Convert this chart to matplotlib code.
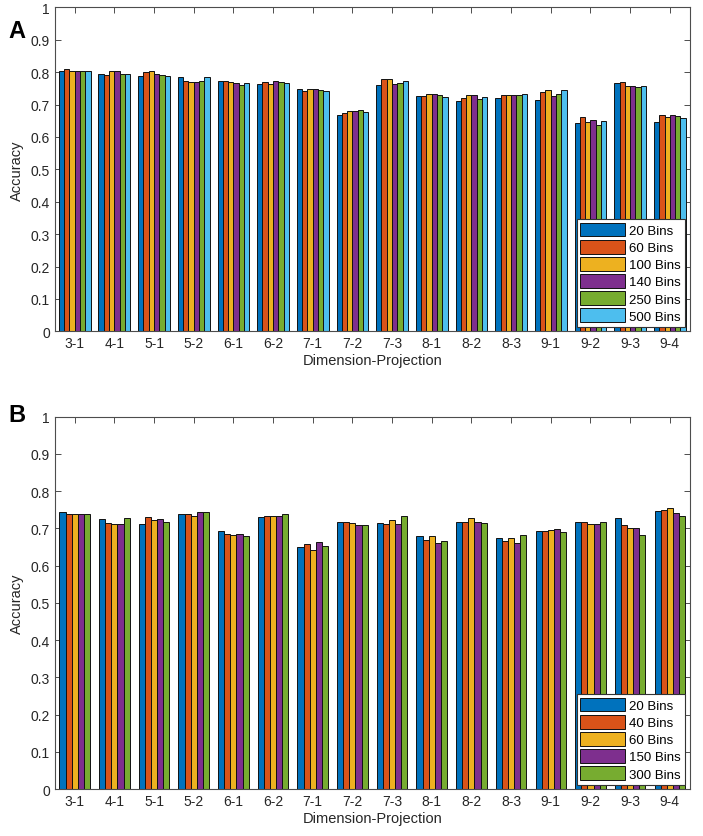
import matplotlib
matplotlib.use("Agg")
import matplotlib.pyplot as plt
import numpy as np

plt.rcParams['font.family'] = ['Liberation Sans', 'DejaVu Sans']

categories = ["3-1", "4-1", "5-1", "5-2", "6-1", "6-2", "7-1", "7-2",
              "7-3", "8-1", "8-2", "8-3", "9-1", "9-2", "9-3", "9-4"]

# Panel A
labels_a = ["20 Bins", "60 Bins", "100 Bins", "140 Bins", "250 Bins", "500 Bins"]
a_20  = [0.805, 0.793, 0.787, 0.784, 0.774, 0.764, 0.747, 0.667, 0.761, 0.726, 0.710, 0.721, 0.713, 0.644, 0.768, 0.647]
a_60  = [0.810, 0.790, 0.800, 0.774, 0.774, 0.771, 0.742, 0.674, 0.778, 0.726, 0.721, 0.728, 0.740, 0.662, 0.770, 0.667]
a_100 = [0.803, 0.803, 0.803, 0.771, 0.770, 0.764, 0.749, 0.680, 0.780, 0.732, 0.730, 0.730, 0.744, 0.647, 0.756, 0.662]
a_140 = [0.805, 0.803, 0.793, 0.770, 0.765, 0.774, 0.749, 0.680, 0.764, 0.732, 0.728, 0.730, 0.726, 0.652, 0.758, 0.667]
a_250 = [0.805, 0.795, 0.791, 0.774, 0.760, 0.770, 0.744, 0.683, 0.768, 0.729, 0.716, 0.730, 0.732, 0.636, 0.754, 0.665]
a_500 = [0.805, 0.795, 0.787, 0.786, 0.767, 0.768, 0.742, 0.676, 0.772, 0.724, 0.723, 0.732, 0.744, 0.650, 0.758, 0.658]

# Panel B
labels_b = ["20 Bins", "40 Bins", "60 Bins", "150 Bins", "300 Bins"]
b_20  = [0.743, 0.724, 0.712, 0.738, 0.693, 0.730, 0.651, 0.717, 0.714, 0.679, 0.717, 0.675, 0.693, 0.717, 0.727, 0.746]
b_40  = [0.740, 0.714, 0.730, 0.738, 0.684, 0.732, 0.658, 0.716, 0.712, 0.669, 0.717, 0.667, 0.693, 0.716, 0.710, 0.750]
b_60  = [0.738, 0.712, 0.722, 0.733, 0.681, 0.733, 0.642, 0.714, 0.722, 0.679, 0.727, 0.675, 0.695, 0.713, 0.700, 0.756]
b_150 = [0.740, 0.712, 0.724, 0.743, 0.684, 0.733, 0.664, 0.710, 0.712, 0.660, 0.717, 0.661, 0.698, 0.713, 0.700, 0.741]
b_300 = [0.738, 0.727, 0.716, 0.743, 0.679, 0.738, 0.653, 0.710, 0.734, 0.666, 0.714, 0.681, 0.690, 0.716, 0.681, 0.734]

colors = ["#0072BD", "#D95319", "#EDB120", "#7E2F8E", "#77AC30", "#4DBEEE"]
axis_color = "#4d4d4d"

fig = plt.figure(figsize=(7.03, 8.37), dpi=100)
ax_a = fig.add_axes([0.078, 0.603, 0.903, 0.387])
ax_b = fig.add_axes([0.078, 0.056, 0.903, 0.445])


def draw(ax, series, labels):
    n = len(series)
    x = np.arange(1, len(categories) + 1)
    group_w = min(0.8, n / (n + 1.5))
    bw = group_w / n
    for i, (vals, lab) in enumerate(zip(series, labels)):
        off = -group_w / 2 + bw * (i + 0.5)
        ax.bar(x + off, vals, width=bw, color=colors[i], edgecolor="#111111",
               linewidth=0.7, label=lab, zorder=2)
    ax.set_xlim(0.5, len(categories) + 0.5)
    ax.set_ylim(0, 1)
    ax.set_yticks(np.round(np.arange(0, 1.01, 0.1), 1))
    ax.set_yticklabels(["0"] + [f"{v:.1f}" for v in np.arange(0.1, 0.95, 0.1)] + ["1"])
    ax.set_xticks(x)
    ax.set_xticklabels(categories)
    ax.tick_params(direction="in", length=4, width=0.7, colors=axis_color,
                   labelcolor="#262626", labelsize=10, top=True, right=True)
    for s in ax.spines.values():
        s.set_color(axis_color)
        s.set_linewidth(0.8)
    ax.set_ylabel("Accuracy", fontsize=10.5, color="#262626", labelpad=5)
    ax.set_xlabel("Dimension-Projection", fontsize=10.5, color="#262626", labelpad=2)
    leg = ax.legend(loc="lower right", fontsize=9.5, frameon=True, fancybox=False,
                    edgecolor="#333333", framealpha=1, handlelength=3.4,
                    handleheight=1.2, labelspacing=0.22, handletextpad=0.3,
                    borderpad=0.3, borderaxespad=0.35)
    leg.get_frame().set_linewidth(0.8)


draw(ax_a, [a_20, a_60, a_100, a_140, a_250, a_500], labels_a)
draw(ax_b, [b_20, b_40, b_60, b_150, b_300], labels_b)

fig.text(0.012, 0.962, "A", fontsize=17, fontweight="bold", ha="left", va="center")
fig.text(0.012, 0.503, "B", fontsize=17, fontweight="bold", ha="left", va="center")

fig.savefig("out.png", dpi=100)
